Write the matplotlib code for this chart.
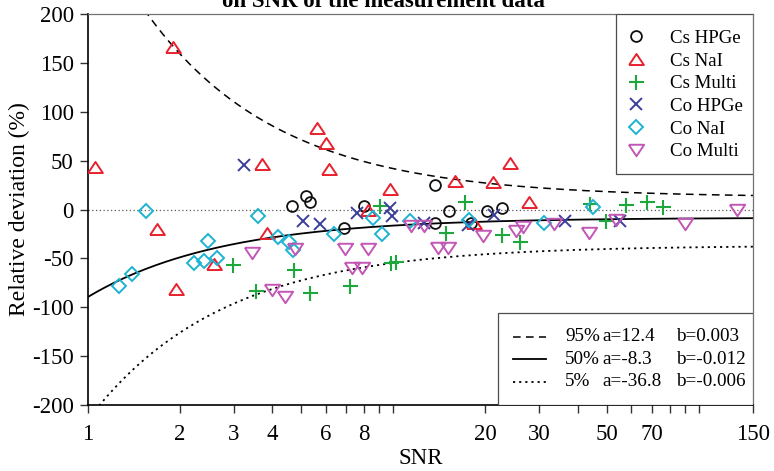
import numpy as np
import matplotlib
matplotlib.use("Agg")
import matplotlib.pyplot as plt
from matplotlib.patches import Rectangle
from matplotlib.lines import Line2D
from matplotlib.ticker import FixedLocator, FixedFormatter, NullLocator

plt.rcParams['font.family'] = ['Liberation Serif', 'DejaVu Serif']
plt.rcParams['axes.unicode_minus'] = False

# ---- measurement data: SNR vs relative deviation (%) ----
cs_hpge_snr = [4.67, 5.17, 5.35, 6.88, 8.04, 13.7, 13.7, 15.2, 17.9, 20.2, 22.7]
cs_hpge_dev = [4, 14, 8, -19, 4, 25, -14, -2, -14, -2, 2]

cs_nai_snr = [1.06, 1.68, 1.9, 1.95, 2.58, 3.71, 3.85, 5.61, 6.02, 6.17, 8.28, 9.72,
              15.9, 18.4, 21.1, 24.1, 27.8]
cs_nai_dev = [44, -20, 166, -81, -56, 47, -24, 83, 68, 41, 0, 21, 29, -14, 28, 48, 8]

cs_multi_snr = [2.98, 3.55, 4.73, 5.33, 7.23, 9.04, 9.8, 10.2, 14.9, 17.1, 22.7, 25.9,
                44, 49.6, 57.7, 67.4, 76.4]
cs_multi_dev = [-57, -83, -62, -85, -78, 4, -55, -54, -24, 8, -26, -33, 6, -12, 5, 8, 3]

co_hpge_snr = [3.25, 5.07, 5.75, 7.62, 9.75, 9.87, 12.6, 17.5, 21.3, 36.5, 55]
co_hpge_dev = [46, -12, -15, -4, 2, -7, -14, -16, -6, -12, -12]

co_nai_snr = [1.27, 1.40, 1.55, 2.23, 2.41, 2.48, 2.64, 3.6, 4.2, 4.57, 4.71, 6.39,
              8.56, 9.16, 11.3, 17.6, 31.1, 45.1]
co_nai_dev = [-78, -66, -2, -55, -53, -32, -50, -7, -28, -33, -41, -25, -9, -25, -12,
              -11, -14, 3]

co_multi_snr = [3.44, 4.0, 4.42, 4.77, 6.95, 7.3, 7.88, 8.28, 11.4, 12.6, 14.0, 15.1,
                19.6, 25.1, 26.6, 33.4, 43.7, 53.5, 89.9, 132.7]
co_multi_dev = [-44, -82, -90, -40, -40, -60, -60, -40, -17, -17, -39, -39, -27, -22,
                -18, -15, -24, -11, -15, 0]

# ---- quantile curves: dev = a + 1 / (b * SNR) ----
quantiles = ['95%', '50%', '5%']
q_a = [12.4, -8.3, -36.8]
q_b = [0.0034, -0.0123, -0.0056]
q_styles = [(0, (5, 3.5)), '-', (0, (1.2, 2.2))]
q_widths = [1.1, 1.3, 1.3]

x_ticks = [1, 2, 3, 4, 5, 6, 7, 8, 9, 10, 20, 30, 40, 50, 60, 70, 80, 90, 100, 150]
x_tick_labels = ['1', '2', '3', '4', '', '6', '', '8', '', '', '20', '30', '', '50', '',
                 '70', '', '', '', '150']
y_ticks = [-200, -150, -100, -50, 0, 50, 100, 150, 200]

fig = plt.figure(figsize=(7.74, 4.71), dpi=100)
ax = fig.add_axes([0.1133, 0.1401, 0.8596, 0.8301])
ax.set_xscale('log')
ax.set_xlim(1, 150)
ax.set_ylim(-200, 200)

# zero reference line
ax.axhline(0, color='0.35', lw=0.9, ls=(0, (1, 2)), zorder=1)

# quantile curves
snr_grid = np.geomspace(1, 150, 400)
for a, b, ls, lw in zip(q_a, q_b, q_styles, q_widths):
    ax.plot(snr_grid, a + 1.0 / (b * snr_grid), color='black', ls=ls, lw=lw, zorder=2)

tri_up = [(-1, -0.75), (1, -0.75), (0, 0.75), (-1, -0.75)]
tri_dn = [(-1, 0.75), (1, 0.75), (0, -0.75), (-1, 0.75)]

series = [
    ('Cs HPGe', cs_hpge_snr, cs_hpge_dev, 'o', '#111111', 7.8, 1.3),
    ('Cs NaI', cs_nai_snr, cs_nai_dev, tri_up, '#e8212e', 10.6, 1.4),
    ('Cs Multi', cs_multi_snr, cs_multi_dev, '+', '#1ea83c', 10.8, 1.5),
    ('Co HPGe', co_hpge_snr, co_hpge_dev, 'x', '#3b3f9a', 8.4, 1.4),
    ('Co NaI', co_nai_snr, co_nai_dev, 'D', '#1db3d3', 7.6, 1.4),
    ('Co Multi', co_multi_snr, co_multi_dev, tri_dn, '#c257b6', 11.0, 1.4),
]
for name, xs, ys, mk, col, ms, mew in series:
    ax.plot(xs, ys, ls='none', marker=mk, ms=ms, mew=mew, mfc='none', mec=col,
            color=col, label=name, zorder=3)

# axes styling
for side in ['top', 'right']:
    ax.spines[side].set_color('0.45')
    ax.spines[side].set_linewidth(0.9)
ax.spines['left'].set_linewidth(1.2)
ax.spines['bottom'].set_linewidth(1.2)
ax.xaxis.set_major_locator(FixedLocator(x_ticks))
ax.xaxis.set_major_formatter(FixedFormatter(x_tick_labels))
ax.xaxis.set_minor_locator(NullLocator())
ax.set_yticks(y_ticks)
ax.tick_params(axis='both', which='major', direction='out', length=6, width=1,
               labelsize=16.5, color='0.2')
ax.tick_params(axis='x', pad=8)
ax.tick_params(axis='y', pad=4)
ax.set_xlabel('SNR', fontsize=16.5, labelpad=2)
ax.set_ylabel('Relative deviation (%)', fontsize=17, labelpad=1.5)

# marker legend: frame drawn separately so it spans the upper-right corner
mframe = Rectangle((0.7936, 0.5916), 0.2064, 0.4084, transform=ax.transAxes,
                   facecolor='white', edgecolor='0.3', lw=0.9, zorder=5)
ax.add_patch(mframe)
leg = ax.legend(loc='upper right', bbox_to_anchor=(0.985, 0.9599), borderaxespad=0,
                frameon=False, fontsize=13.6, handlelength=1.5, handletextpad=1.05,
                labelspacing=0.29, borderpad=0, numpoints=1)
leg.set_zorder(6)

# quantile-curve legend with aligned parameter columns
box = Rectangle((0.6163, 0.0), 0.3837, 0.2345, transform=ax.transAxes, fill=True,
                facecolor='white', edgecolor='0.3', lw=0.9, zorder=5)
ax.add_patch(box)
row_y = [0.1747, 0.1168, 0.0595]
for q, a, b, ls, lw, yy in zip(quantiles, q_a, q_b, q_styles, q_widths, row_y):
    ax.add_line(Line2D([0.6397, 0.6884], [yy, yy], transform=ax.transAxes,
                       color='black', ls=ls, lw=lw, zorder=6))
    ax.text(0.7174, yy, q, transform=ax.transAxes, fontsize=13.8, va='center',
            ha='left', zorder=6)
    ax.text(0.7738, yy, f'a={a:g}', transform=ax.transAxes, fontsize=13.8,
            va='center', ha='left', zorder=6)
    ax.text(0.8843, yy, f'b={b:.3f}', transform=ax.transAxes, fontsize=13.8,
            va='center', ha='left', zorder=6)

fig.text(0.495, 0.985, 'on SNR of the measurement data', fontsize=16.5,
         fontweight='bold', ha='center', va='baseline')

fig.savefig('out.png', dpi=100)
